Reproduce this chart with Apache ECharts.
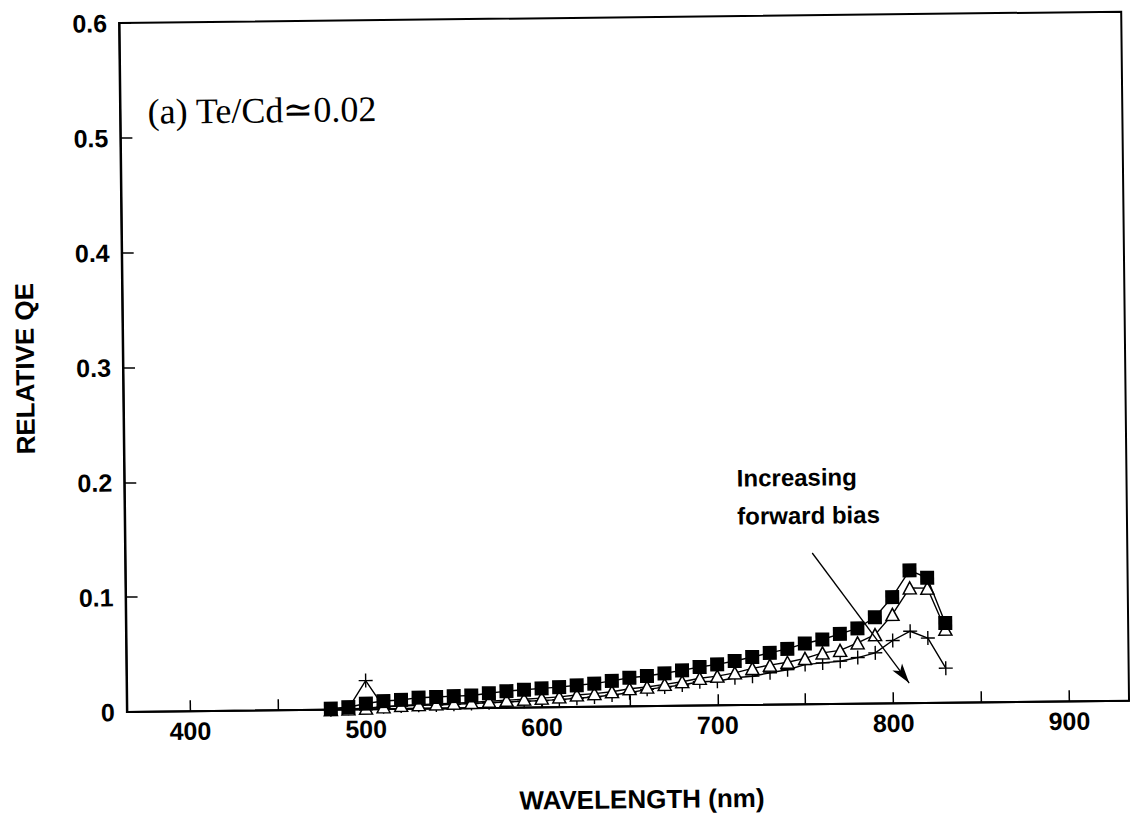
<!DOCTYPE html>
<html>
<head>
<meta charset="utf-8">
<script src="https://cdn.jsdelivr.net/npm/echarts@6/dist/echarts.min.js"></script>
<style>
html,body{margin:0;padding:0;background:#fff;overflow:hidden;}
#chart{width:1134px;height:823px;transform:rotate(-0.65deg);transform-origin:567px 411.5px;}
</style>
</head>
<body>
<div id="chart"></div>
<script>
// Wavelength (nm)
var wavelength = [480,490,500,510,520,530,540,550,560,570,580,590,600,610,620,630,640,650,660,670,680,690,700,710,720,730,740,750,760,770,780,790,800,810,820,830];
// Filled squares (lowest forward bias)
var qeSquare = [0.001,0.002,0.005,0.007,0.0078,0.0096,0.010,0.0106,0.011,0.0128,0.0144,0.0155,0.0165,0.0174,0.0188,0.0201,0.0223,0.0249,0.0262,0.0284,0.0308,0.0335,0.0356,0.0384,0.0417,0.0452,0.0484,0.053,0.0563,0.061,0.0656,0.0751,0.0925,0.1156,0.109,0.0694];
// Open triangles
var qeTriangle = [0.0,0.0005,0.001,0.002,0.003,0.0035,0.004,0.0045,0.005,0.0058,0.0065,0.0072,0.008,0.0089,0.0104,0.0114,0.0129,0.0153,0.0166,0.0188,0.0209,0.0237,0.0254,0.0281,0.0318,0.0345,0.0368,0.040,0.0446,0.0466,0.053,0.060,0.0774,0.1004,0.100,0.064];
// Plus signs (highest forward bias)
var qePlus = [0.0,0.001,0.025,0.002,0.0025,0.003,0.003,0.0035,0.004,0.0045,0.005,0.0055,0.0058,0.0065,0.0075,0.0085,0.010,0.0118,0.0146,0.0164,0.018,0.0207,0.021,0.0238,0.025,0.0278,0.0303,0.0346,0.0359,0.0372,0.0402,0.0441,0.0547,0.0626,0.0565,0.0301];
// Axis ticks
var xTickValues = [400,450,500,550,600,650,700,750,800,850,900];
var xLabelValues = [400,500,600,700,800,900];
var arrowFrom = [754.8, 0.1317];
var arrowTo = [809.1, 0.0175];

function pairs(xs, ys){ return xs.map(function(x,i){ return [x, ys[i]]; }); }

var sans = 'Liberation Sans, Arial, Helvetica, sans-serif';
var serif = 'Liberation Serif, Times New Roman, serif';
var plusPath = 'path://M45,0 H55 V45 H100 V55 H55 V100 H45 V55 H0 V45 H45 Z';

var chart = echarts.init(document.getElementById('chart'), null, {renderer:'svg'});
chart.setOption({
  backgroundColor:'#fff',
  animation:false,
  grid:{left:123.5, right:8.3, top:18, bottom:116, show:true, borderColor:'#000', borderWidth:2, backgroundColor:'transparent'},
  xAxis:{
    type:'value', min:364, max:934,
    name:'WAVELENGTH (nm)', nameLocation:'middle', nameGap:80,
    nameTextStyle:{fontFamily:sans, fontSize:26, fontWeight:'bold', color:'#000', padding:[0,0,0,26]},
    axisLine:{show:true, lineStyle:{color:'#000', width:2}},
    axisTick:{show:true, inside:true, length:11, lineStyle:{color:'#000', width:1.5}, customValues:xTickValues},
    axisLabel:{show:true, color:'#000', fontFamily:sans, fontSize:25, fontWeight:'bold', margin:7, customValues:xLabelValues},
    splitLine:{show:false}
  },
  yAxis:{
    type:'value', min:0, max:0.6, interval:0.1,
    name:'RELATIVE QE', nameLocation:'middle', nameGap:85,
    nameTextStyle:{fontFamily:sans, fontSize:26, fontWeight:'bold', color:'#000'},
    axisLine:{show:true, lineStyle:{color:'#000', width:2}},
    axisTick:{show:true, inside:true, length:12, lineStyle:{color:'#000', width:1.5}},
    axisLabel:{show:true, color:'#000', fontFamily:sans, fontSize:25, fontWeight:'bold', margin:12,
      formatter:function(v){ return v===0 ? '0' : v.toFixed(1); }},
    splitLine:{show:false}
  },
  series:[
    {type:'line', name:'plus', data:pairs(wavelength, qePlus), symbol:plusPath, symbolSize:14,
     itemStyle:{color:'#000'}, lineStyle:{color:'#000', width:1.4}, z:2},
    {type:'line', name:'triangle', data:pairs(wavelength, qeTriangle), symbol:'triangle', symbolSize:[13,12],
     itemStyle:{color:'#fff', borderColor:'#000', borderWidth:1.5}, lineStyle:{color:'#000', width:1.4}, z:3},
    {type:'line', name:'square', data:pairs(wavelength, qeSquare), symbol:'rect', symbolSize:14,
     itemStyle:{color:'#000'}, lineStyle:{color:'#000', width:1.4}, z:4,
     markLine:{silent:true, symbol:['none','arrow'], symbolSize:[9,20], label:{show:false},
       lineStyle:{color:'#000', width:1.3, type:'solid'},
       data:[[{coord:arrowFrom},{coord:arrowTo}]]}}
  ],
  graphic:[
    {type:'text', left:151, top:89, style:{text:'(a) Te/Cd\u22430.02', font:'36px ' + serif, fill:'#000'}},
    {type:'text', left:736, top:468, style:{text:'Increasing', font:'bold 24px ' + sans, fill:'#000'}},
    {type:'text', left:736, top:506, style:{text:'forward bias', font:'bold 24px ' + sans, fill:'#000'}}
  ]
});
</script>
</body>
</html>
